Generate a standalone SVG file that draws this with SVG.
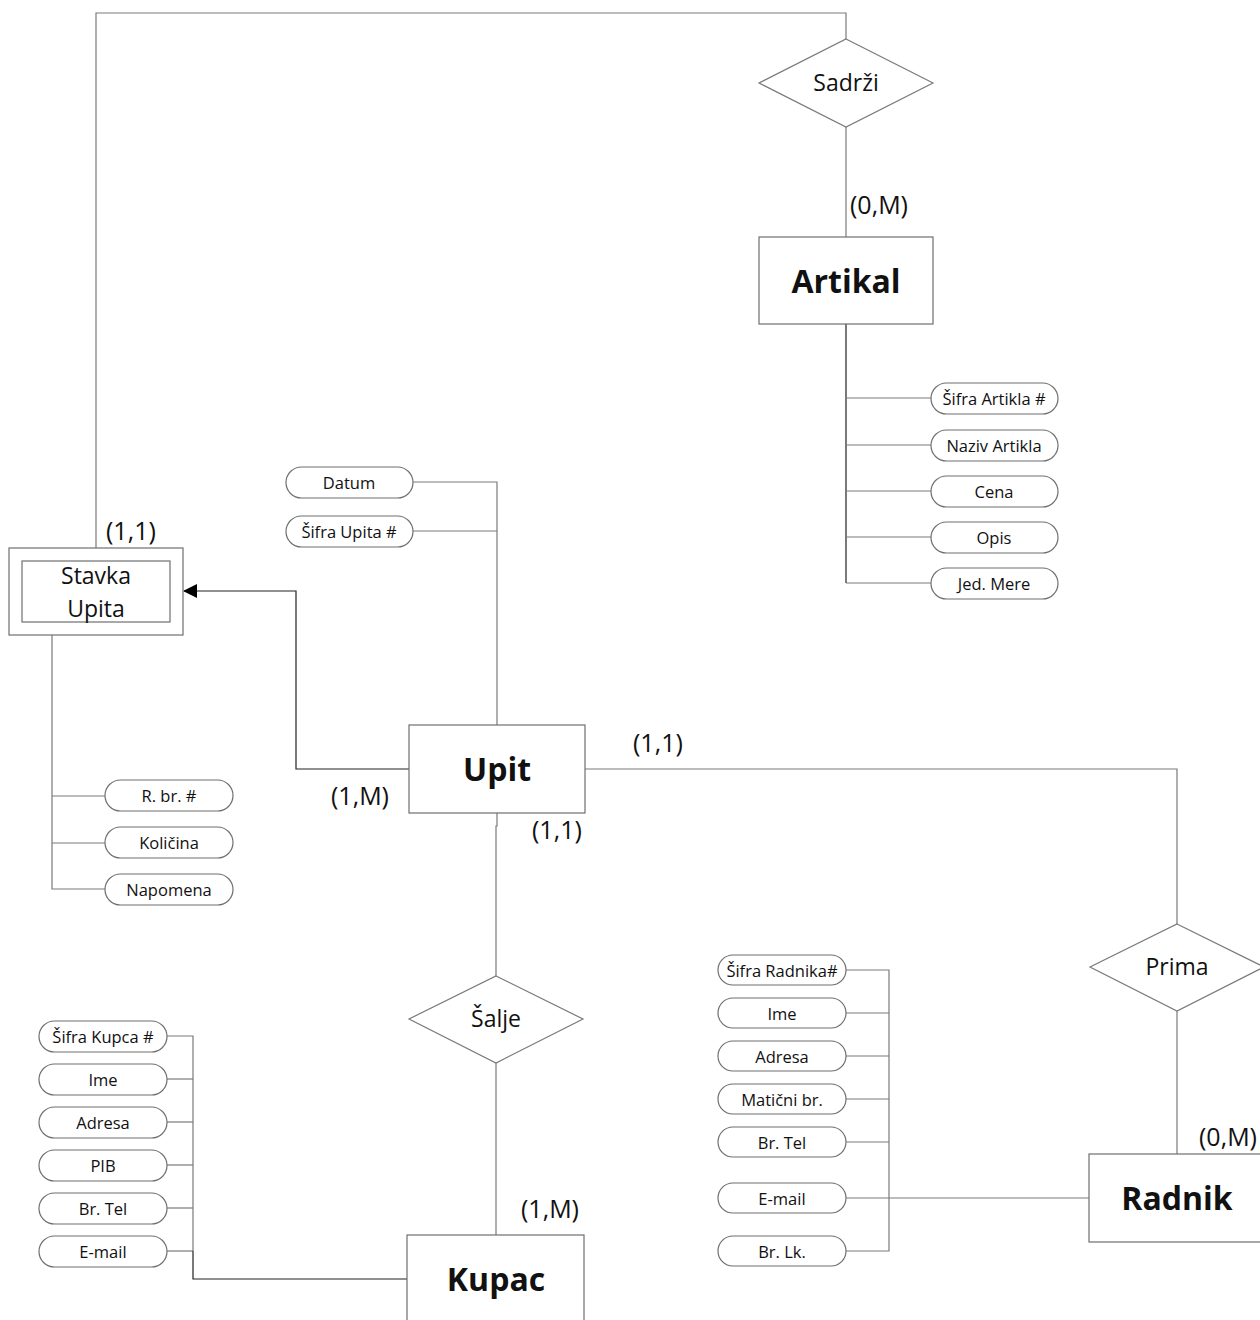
<svg xmlns="http://www.w3.org/2000/svg" width="1260" height="1320" viewBox="0 0 1260 1320">
<style>
text{font-family:"Open Sans",Lato,"Liberation Sans",sans-serif;fill:#111;text-anchor:middle;dominant-baseline:central}
.ent{fill:#fff;stroke:#6f6f6f;stroke-width:1.2}
.rel{fill:#fff;stroke:#7a7a7a;stroke-width:1.2}
.attr{fill:#fff;stroke:#6f6f6f;stroke-width:1.2}
.c{fill:none;stroke:#7a7a7a;stroke-width:1.2}
.cd{fill:none;stroke:#222;stroke-width:1.2}
.et{font-size:32px;font-weight:bold}
.rt{font-size:23px}
.at{font-size:16.5px}
.card{font-size:25px;text-anchor:start}
</style>
<defs>
<marker id="arr" markerWidth="14" markerHeight="14" refX="13" refY="7" orient="auto" markerUnits="userSpaceOnUse">
<path d="M0,0 L14,7 L0,14 Z" fill="#000"/>
</marker>
</defs>

<g id="connectors">
<polyline class="c" points="846,39 846,13 96,13 96,548"/>
<line class="c" x1="846" y1="127" x2="846" y2="237"/>
<line class="cd" x1="846" y1="324" x2="846" y2="583"/>
<line class="c" x1="846" y1="398" x2="931" y2="398"/>
<line class="c" x1="846" y1="445" x2="931" y2="445"/>
<line class="c" x1="846" y1="491" x2="931" y2="491"/>
<line class="c" x1="846" y1="537" x2="931" y2="537"/>
<line class="c" x1="846" y1="583" x2="931" y2="583"/>
<polyline class="c" points="413,482 497,482 497,725"/>
<line class="c" x1="413" y1="531" x2="497" y2="531"/>
<polyline class="cd" points="409,769 296,769 296,591 184,591" marker-end="url(#arr)"/>
<polyline class="c" points="52,635 52,889 105,889"/>
<line class="c" x1="52" y1="796" x2="105" y2="796"/>
<line class="c" x1="52" y1="843" x2="105" y2="843"/>
<polyline class="c" points="585,769 1177,769 1177,924"/>
<line class="c" x1="1177" y1="1011" x2="1177" y2="1154"/>
<polyline class="c" points="497,813 497,826 496,826 496,976"/>
<line class="c" x1="496" y1="1063" x2="496" y2="1235"/>
<polyline class="c" points="167,1036 193,1036 193,1251"/>
<line class="c" x1="167" y1="1079" x2="193" y2="1079"/>
<line class="c" x1="167" y1="1122" x2="193" y2="1122"/>
<line class="c" x1="167" y1="1165" x2="193" y2="1165"/>
<line class="c" x1="167" y1="1208" x2="193" y2="1208"/>
<line class="c" x1="167" y1="1251" x2="193" y2="1251"/>
<polyline class="cd" points="193,1251 193,1279 407,1279"/>
<polyline class="c" points="846,970 889,970 889,1251 846,1251"/>
<line class="c" x1="846" y1="1013" x2="889" y2="1013"/>
<line class="c" x1="846" y1="1056" x2="889" y2="1056"/>
<line class="c" x1="846" y1="1099" x2="889" y2="1099"/>
<line class="c" x1="846" y1="1142" x2="889" y2="1142"/>
<line class="c" x1="846" y1="1198" x2="1089" y2="1198"/>
</g>

<g id="sadrzi">
<polygon class="rel" points="846,39 933,83 846,127 759,83"/>
<text class="rt" x="846" y="82">Sadrži</text>
</g>

<g id="artikal">
<rect class="ent" x="759" y="237" width="174" height="87"/>
<text class="et" x="846" y="280">Artikal</text>
</g>

<g id="artikal-attrs">
<rect class="attr" x="931" y="383" width="127" height="31" rx="15.5"/>
<text class="at" x="994" y="398">Šifra Artikla #</text>
<rect class="attr" x="931" y="430" width="127" height="31" rx="15.5"/>
<text class="at" x="994" y="445">Naziv Artikla</text>
<rect class="attr" x="931" y="476" width="127" height="31" rx="15.5"/>
<text class="at" x="994" y="491">Cena</text>
<rect class="attr" x="931" y="522" width="127" height="31" rx="15.5"/>
<text class="at" x="994" y="537">Opis</text>
<rect class="attr" x="931" y="568" width="127" height="31" rx="15.5"/>
<text class="at" x="994" y="583">Jed. Mere</text>
</g>

<g id="stavka-upita">
<rect class="ent" x="9" y="548" width="174" height="87"/>
<rect class="ent" x="22" y="561" width="148" height="61"/>
<text class="rt" x="96" y="575">Stavka</text>
<text class="rt" x="96" y="608">Upita</text>
</g>

<g id="stavka-attrs">
<rect class="attr" x="105" y="780" width="128" height="31" rx="15.5"/>
<text class="at" x="169" y="795">R. br. #</text>
<rect class="attr" x="105" y="827" width="128" height="31" rx="15.5"/>
<text class="at" x="169" y="842">Količina</text>
<rect class="attr" x="105" y="874" width="128" height="31" rx="15.5"/>
<text class="at" x="169" y="889">Napomena</text>
</g>

<g id="upit-attrs">
<rect class="attr" x="286" y="467" width="127" height="31" rx="15.5"/>
<text class="at" x="349" y="482">Datum</text>
<rect class="attr" x="286" y="516" width="127" height="31" rx="15.5"/>
<text class="at" x="349" y="531">Šifra Upita #</text>
</g>

<g id="upit">
<rect class="ent" x="409" y="725" width="176" height="88"/>
<text class="et" x="497" y="768">Upit</text>
</g>

<g id="prima">
<polygon class="rel" points="1177,924 1264,967 1177,1011 1090,967"/>
<text class="rt" x="1177" y="966">Prima</text>
</g>

<g id="radnik">
<rect class="ent" x="1089" y="1154" width="180" height="88"/>
<text class="et" x="1177" y="1197">Radnik</text>
</g>

<g id="radnik-attrs">
<rect class="attr" x="718" y="955" width="128" height="30" rx="15"/>
<text class="at" x="782" y="970">Šifra Radnika#</text>
<rect class="attr" x="718" y="998" width="128" height="30" rx="15"/>
<text class="at" x="782" y="1013">Ime</text>
<rect class="attr" x="718" y="1041" width="128" height="30" rx="15"/>
<text class="at" x="782" y="1056">Adresa</text>
<rect class="attr" x="718" y="1084" width="128" height="30" rx="15"/>
<text class="at" x="782" y="1099">Matični br.</text>
<rect class="attr" x="718" y="1127" width="128" height="30" rx="15"/>
<text class="at" x="782" y="1142">Br. Tel</text>
<rect class="attr" x="718" y="1183" width="128" height="30" rx="15"/>
<text class="at" x="782" y="1198">E-mail</text>
<rect class="attr" x="718" y="1236" width="128" height="30" rx="15"/>
<text class="at" x="782" y="1251">Br. Lk.</text>
</g>

<g id="salje">
<polygon class="rel" points="496,976 583,1019 496,1063 409,1019"/>
<text class="rt" x="496" y="1018">Šalje</text>
</g>

<g id="kupac">
<rect class="ent" x="407" y="1235" width="177" height="100"/>
<text class="et" x="496" y="1278">Kupac</text>
</g>

<g id="kupac-attrs">
<rect class="attr" x="39" y="1021" width="128" height="31" rx="15.5"/>
<text class="at" x="103" y="1036">Šifra Kupca #</text>
<rect class="attr" x="39" y="1064" width="128" height="31" rx="15.5"/>
<text class="at" x="103" y="1079">Ime</text>
<rect class="attr" x="39" y="1107" width="128" height="31" rx="15.5"/>
<text class="at" x="103" y="1122">Adresa</text>
<rect class="attr" x="39" y="1150" width="128" height="31" rx="15.5"/>
<text class="at" x="103" y="1165">PIB</text>
<rect class="attr" x="39" y="1193" width="128" height="31" rx="15.5"/>
<text class="at" x="103" y="1208">Br. Tel</text>
<rect class="attr" x="39" y="1236" width="128" height="31" rx="15.5"/>
<text class="at" x="103" y="1251">E-mail</text>
</g>

<g id="cardinalities">
<text class="card" x="850" y="204">(0,M)</text>
<text class="card" x="106" y="530">(1,1)</text>
<text class="card" x="331" y="795">(1,M)</text>
<text class="card" x="633" y="742">(1,1)</text>
<text class="card" x="532" y="829">(1,1)</text>
<text class="card" x="1199" y="1136">(0,M)</text>
<text class="card" x="521" y="1208">(1,M)</text>
</g>
</svg>
